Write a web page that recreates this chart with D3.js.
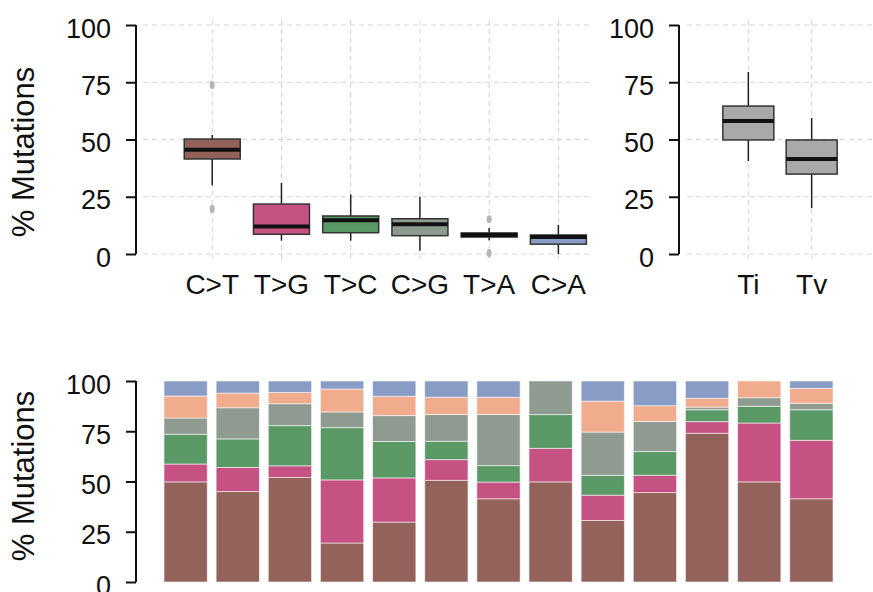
<!DOCTYPE html>
<html>
<head>
<meta charset="utf-8">
<script src="https://cdn.jsdelivr.net/npm/d3@7"></script>
<style>
  body { margin: 0; background: #fff; }
  svg text { font-family: "Liberation Sans", Arial, sans-serif; fill: #111; }
  .grid line { stroke: #d4d4d4; stroke-dasharray: 5,4; stroke-width: 1; }
</style>
</head>
<body>
<div id="chart"></div>
<script>
// substitution classes and their colours
const classes = ['C>T', 'T>G', 'T>C', 'C>G', 'T>A', 'C>A'];
const classColors = ['#93625a', '#c55282', '#5a9966', '#8f9b90', '#f0ac8c', '#899cc6'];

// box stats per class: [whiskerLow, q1, median, q3, whiskerHigh]
const classStats = [
  [30, 41.5, 45.5, 50.2, 52],
  [5.8, 8.6, 12, 21.8, 31],
  [5.8, 9.3, 14.7, 16.6, 26],
  [1.4, 8, 13, 15.4, 25],
  [6, 7.4, 8.3, 9.2, 11.3],
  [0, 4.3, 7.4, 8.3, 12.7]
];
const classOutliers = [[73.8, 19.7], [], [], [], [15.2, 0.4], []];

const tiTvLabels = ['Ti', 'Tv'];
const tiTvStats = [
  [40.6, 49.8, 58.1, 64.6, 79.5],
  [20, 34.9, 41.5, 49.8, 59.4]
];

// per-sample composition (bottom to top: C>T, T>G, T>C, C>G, T>A, C>A)
const samples = d3.range(1, 14).map(String);
const sCT = [49.8, 45, 52, 19.4, 29.8, 50.6, 41.4, 49.8, 30.6, 44.5, 74, 49.8, 41.4];
const sTG = [8.9, 12, 5.8, 31.4, 22, 10.3, 8.3, 16.7, 12.6, 8.6, 5.8, 29.3, 29.1];
const sTC = [14.8, 14.2, 20, 26, 18.1, 9.1, 8.2, 16.8, 9.9, 11.8, 5.9, 8.3, 15.2];
const sCG = [8.1, 15.5, 10.9, 7.8, 12.9, 13.3, 25.4, 16.7, 21.5, 15, 1.3, 4.3, 3.2];
const sTA = [10.9, 7.3, 5.6, 11.4, 9.6, 8.6, 8.6, 0, 15.4, 7.8, 4.4, 8.3, 7.4];
const sCA = [7.5, 6, 5.7, 4, 7.6, 8.1, 8.1, 0, 10, 12.3, 8.6, 0, 3.7];

const yTicks = [0, 25, 50, 75, 100];

const width = 873, height = 592;
const svg = d3.select('#chart').append('svg')
  .attr('width', width).attr('height', height);

// shared y axis helper (R style: spine + ticks, labels horizontal)
function drawYAxis(g, y, x0, label, labelY) {
  const ax = g.append('g')
    .attr('transform', `translate(${x0},0)`)
    .call(d3.axisLeft(y).tickValues(yTicks).tickSize(10).tickPadding(15).tickSizeOuter(0));
  ax.select('.domain').attr('stroke', '#111').attr('stroke-width', 2)
    .attr('d', `M0,${y(100)}V${y(0)}`);
  ax.selectAll('.tick line').attr('stroke', '#111').attr('stroke-width', 2);
  ax.selectAll('.tick text').attr('font-size', 27).attr('dy', '0.45em');
  if (label) {
    g.append('text')
      .attr('transform', `translate(34,${labelY}) rotate(-90)`)
      .attr('text-anchor', 'middle')
      .attr('font-size', 31)
      .text(label);
  }
}

function drawBoxes(g, x, y, stats, colors, halfW) {
  stats.forEach((s, i) => {
    const cx = x(i + 1);
    const b = g.append('g');
    b.append('line')
      .attr('x1', cx).attr('x2', cx)
      .attr('y1', y(s[0])).attr('y2', y(s[4]))
      .attr('stroke', '#222').attr('stroke-width', 1.5);
    b.append('rect')
      .attr('x', cx - halfW).attr('width', halfW * 2)
      .attr('y', y(s[3])).attr('height', y(s[1]) - y(s[3]))
      .attr('fill', colors[i]).attr('stroke', '#333').attr('stroke-width', 1.5);
    b.append('line')
      .attr('x1', cx - halfW).attr('x2', cx + halfW)
      .attr('y1', y(s[2])).attr('y2', y(s[2]))
      .attr('stroke', '#111').attr('stroke-width', 4);
  });
}

// ---- top left: boxplot by class
const yTop = d3.scaleLinear([0, 100], [254, 25]);
const xTop = d3.scaleLinear([0, 6.5], [143, 593]);
const gTL = svg.append('g');

const gridTL = gTL.append('g').classed('grid', true);
gridTL.selectAll('line.h').data(yTicks).join('line').classed('h', true)
  .attr('x1', 143).attr('x2', 593).attr('y1', d => yTop(d)).attr('y2', d => yTop(d));
gridTL.selectAll('line.v').data(classes).join('line').classed('v', true)
  .attr('x1', (d, i) => xTop(i + 1)).attr('x2', (d, i) => xTop(i + 1))
  .attr('y1', 20).attr('y2', 262);

classOutliers.forEach((pts, i) => {
  gTL.selectAll(null).data(pts).join('ellipse')
    .attr('cx', xTop(i + 1)).attr('cy', d => yTop(d))
    .attr('rx', 2.5).attr('ry', 4).attr('fill', '#b5b5b5');
});

drawBoxes(gTL, xTop, yTop, classStats, classColors, 28);
drawYAxis(gTL, yTop, 136, '% Mutations', 152);

gTL.selectAll('text.xl').data(classes).join('text').classed('xl', true)
  .attr('x', (d, i) => xTop(i + 1)).attr('y', 294)
  .attr('text-anchor', 'middle').attr('font-size', 28)
  .text(d => d);

// ---- top right: Ti / Tv
const xTR = d3.scaleLinear([0, 3], [685, 875]);
const gTR = svg.append('g');
const gridTR = gTR.append('g').classed('grid', true);
gridTR.selectAll('line.h').data(yTicks).join('line').classed('h', true)
  .attr('x1', 687).attr('x2', 873).attr('y1', d => yTop(d)).attr('y2', d => yTop(d));
gridTR.selectAll('line.v').data(tiTvLabels).join('line').classed('v', true)
  .attr('x1', (d, i) => xTR(i + 1)).attr('x2', (d, i) => xTR(i + 1))
  .attr('y1', 20).attr('y2', 262);

drawBoxes(gTR, xTR, yTop, tiTvStats, ['#a9a9a9', '#a9a9a9'], 25.5);
drawYAxis(gTR, yTop, 679, null);

gTR.selectAll('text.xl').data(tiTvLabels).join('text').classed('xl', true)
  .attr('x', (d, i) => xTR(i + 1)).attr('y', 294)
  .attr('text-anchor', 'middle').attr('font-size', 28)
  .text(d => d);

// ---- bottom: stacked composition per sample
const yBot = d3.scaleLinear([0, 100], [582, 381]);
const xBot = d3.scaleBand(samples, [164, 833]).paddingInner(0.17).paddingOuter(0);
const rows = samples.map((s, i) => ({
  sample: s,
  'C>T': sCT[i], 'T>G': sTG[i], 'T>C': sTC[i], 'C>G': sCG[i], 'T>A': sTA[i], 'C>A': sCA[i]
}));
const stacked = d3.stack().keys(classes)(rows);

const gB = svg.append('g');
gB.selectAll('g.layer').data(stacked).join('g').classed('layer', true)
  .attr('fill', (d, i) => classColors[i])
  .selectAll('rect').data(d => d).join('rect')
  .attr('x', d => xBot(d.data.sample))
  .attr('width', xBot.bandwidth())
  .attr('y', d => yBot(d[1]))
  .attr('height', d => yBot(d[0]) - yBot(d[1]))
  .attr('stroke', 'rgba(255,255,255,0.55)').attr('stroke-width', 1);

drawYAxis(gB, yBot, 136, '% Mutations', 476);
</script>
</body>
</html>
